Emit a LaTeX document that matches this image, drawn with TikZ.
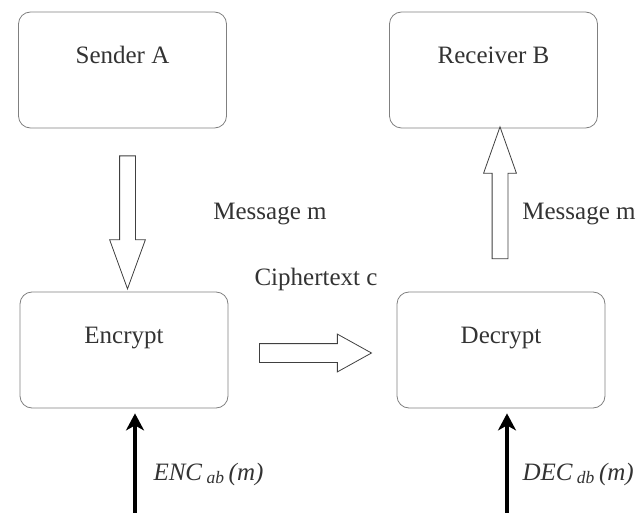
\documentclass[tikz,border=0pt]{standalone}
\usepackage{fontspec}
\setmainfont{Liberation Serif}
\usetikzlibrary{arrows.meta,shapes.arrows}

\begin{document}
\begin{tikzpicture}[x=1pt,y=-1pt]
        \useasboundingbox (0,0) rectangle (640,513);
        \begin{scope}[
            every node/.style={text=black!80,font=\fontsize{25}{28}\selectfont},
            box/.style={draw=black!50,thick,rounded corners=12pt,minimum width=208pt,minimum height=116pt,text height=15pt,text depth=28pt},
            hollow/.style={single arrow,draw=black!75,thick,fill=white,inner sep=7.5pt,single arrow head extend=10pt,minimum width=0pt},
            key/.style={line width=3.5pt,shorten >=5pt,-{Stealth[length=17pt,width=18pt,inset=5pt]}}
            ]
            \node[box] (sender) at (122.5, 70) {Sender A};
            \node[box] (receiver) at (493.5, 70) {Receiver B};
            \node[box] (encrypt) at (124, 350) {Encrypt};
            \node[box] (decrypt) at (501, 350) {Decrypt};
            \node[hollow,rotate=-90,minimum height=133pt,single arrow tip angle=40] (msgdown) at (127.5, 211.5) {};
            \node[hollow,rotate=90,minimum height=132pt,single arrow head extend=8.5pt,single arrow tip angle=39] (msgup) at (500, 204) {};
            \node[hollow,minimum height=112pt,inner sep=9pt,single arrow head extend=9.5pt,single arrow tip angle=58] (cipher) at (307, 353) {};
            \node (msgleft) at (270, 214) {Message m};
            \node (msgright) at (579, 214) {Message m};
            \node (ciphertext) at (316, 279) {Ciphertext c};
            \coordinate (enckey) at (135, 513);
            \coordinate (deckey) at (507, 513);
            \draw[key] (enckey) -- (enckey |- encrypt.south);
            \draw[key] (deckey) -- (deckey |- decrypt.south);
            \node[anchor=west] (enclabel) at (150, 474) {\textit{ENC}\,\textsubscript{\textit{ab}}\,\textit{(m)}};
            \node[anchor=west] (declabel) at (519, 474) {\textit{DEC}\,\textsubscript{\textit{db}}\,\textit{(m)}};
        \end{scope}
    \end{tikzpicture}
\end{document}
